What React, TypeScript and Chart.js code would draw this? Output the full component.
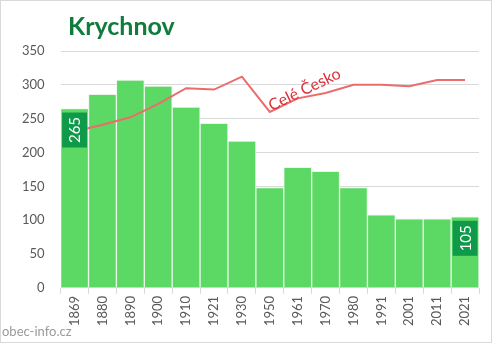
import React, { useEffect, useRef } from "react";
import { Chart, registerables } from "chart.js";

Chart.register(...registerables);

const years = ["1869", "1880", "1890", "1900", "1910", "1921", "1930", "1950", "1961", "1970", "1980", "1991", "2001", "2011", "2021"];
const population = [265, 286, 307, 298, 267, 243, 217, 148, 178, 172, 148, 108, 102, 102, 105];
const czechia = [231, 241, 252, 272, 295, 293, 312, 260, 280, 288, 300, 300, 298, 307, 307];
const yTicks = [0, 50, 100, 150, 200, 250, 300, 350];
const titleText = "Krychnov";
const lineLabel = "Celé Česko";
const sourceText = "obec-info.cz";

const FONT = "Lato, 'Open Sans', sans-serif";

const decorPlugin = {
  id: "decor",
  afterDatasetsDraw(chart: any) {
    const ctx = chart.ctx;
    const meta = chart.getDatasetMeta(0);
    const xs = chart.scales.x;
    const ys = chart.scales.y;
    [0, population.length - 1].forEach((i) => {
      const bar = meta.data[i];
      const w = bar.width - 3;
      const h = 35;
      const left = bar.x - w / 2;
      const top = bar.y + 4;
      ctx.save();
      ctx.fillStyle = "#0e9a48";
      ctx.fillRect(left, top, w, h);
      ctx.translate(bar.x, top + h / 2);
      ctx.rotate(-Math.PI / 2);
      ctx.fillStyle = "#ffffff";
      ctx.font = `15px ${FONT}`;
      ctx.textAlign = "center";
      ctx.textBaseline = "middle";
      ctx.fillText(String(population[i]), 0, 1);
      ctx.restore();
    });
    ctx.save();
    const lx = xs.getPixelForValue(8) + 7;
    const ly = ys.getPixelForValue(293);
    ctx.translate(lx, ly);
    ctx.rotate(-0.45);
    ctx.fillStyle = "#dc2f3a";
    ctx.font = `16px ${FONT}`;
    ctx.textAlign = "center";
    ctx.textBaseline = "middle";
    ctx.fillText(lineLabel, 0, 0);
    ctx.restore();
  },
  afterDraw(chart: any) {
    const ctx = chart.ctx;
    ctx.save();
    ctx.strokeStyle = "#d9d9d9";
    ctx.lineWidth = 1;
    ctx.strokeRect(0.5, 0.5, chart.width - 1, chart.height - 1);
    ctx.fillStyle = "#0f7b3c";
    ctx.font = `bold 25px ${FONT}`;
    ctx.textBaseline = "alphabetic";
    ctx.textAlign = "left";
    ctx.fillText(titleText, 68, 35);
    ctx.fillStyle = "#9a9a9a";
    ctx.font = `13px ${FONT}`;
    ctx.fillText(sourceText, 2, 336);
    ctx.restore();
  },
};

export default function App() {
  const ref = useRef<HTMLCanvasElement>(null);
  useEffect(() => {
    document.body.style.margin = "0";
    const chart = new Chart(ref.current!, {
      type: "bar",
      data: {
        labels: years,
        datasets: [
          {
            type: "bar",
            data: population,
            backgroundColor: "#5cd964",
            borderColor: "#e8f7e8",
            borderWidth: 1,
            categoryPercentage: 1,
            barPercentage: 1,
            order: 2,
          },
          {
            type: "line",
            data: czechia,
            borderColor: "#ec6b6b",
            borderWidth: 2,
            pointRadius: 0,
            tension: 0,
            order: 1,
          } as any,
        ],
      },
      options: {
        animation: false,
        responsive: false,
        layout: { padding: { top: 51, left: 6, right: 13, bottom: 15 } },
        plugins: { legend: { display: false }, tooltip: { enabled: false }, title: { display: false } },
        scales: {
          x: {
            offset: true,
            grid: { display: true, drawOnChartArea: false, drawTicks: true, tickLength: 6, color: "#d9d9d9", offset: true },
            border: { display: false },
            ticks: { minRotation: 90, maxRotation: 90, color: "#595959", font: { family: FONT, size: 13 }, padding: 2 },
          },
          y: {
            min: 0,
            max: 350,
            afterBuildTicks: (axis: any) => {
              axis.ticks = yTicks.map((v) => ({ value: v }));
            },
            grid: { color: "#d9d9d9", drawTicks: false },
            border: { display: false },
            ticks: { color: "#595959", font: { family: FONT, size: 13 }, padding: 16 },
          },
        },
      },
      plugins: [decorPlugin],
    });
    return () => chart.destroy();
  }, []);
  return (
    <div style={{ position: "absolute", left: 0, top: 0, width: 492, height: 343 }}>
      <canvas ref={ref} width={492} height={343} />
    </div>
  );
}
